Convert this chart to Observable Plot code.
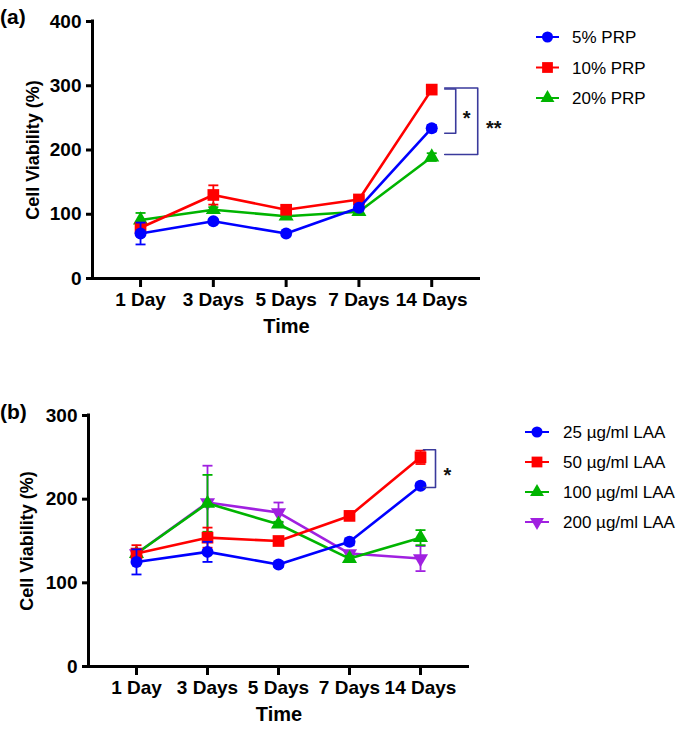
<!DOCTYPE html>
<html>
<head>
<meta charset="utf-8">
<script src="https://cdn.jsdelivr.net/npm/d3@7"></script>
<script src="https://cdn.jsdelivr.net/npm/@observablehq/plot@0.6"></script>
<style>
  body { margin: 0; background: #fff; }
  #page { position: relative; width: 685px; height: 734px; background: #fff; font-family: "Liberation Sans", Arial, sans-serif; }
  .panel { position: absolute; left: 0; }
  .tag { position: absolute; left: 0; font-weight: bold; font-size: 21px; line-height: 21px; }
  #overlay { position: absolute; left: 0; top: 0; }
</style>
</head>
<body>
<div id="page">
  <div id="pa" class="panel" style="top:0"></div>
  <div id="pb" class="panel" style="top:370px"></div>
  <div class="tag" style="top:6px">(a)</div>
  <div class="tag" style="top:401px">(b)</div>
</div>
<script>
// ---------- data ----------
const days = ["1 Day", "3 Days", "5 Days", "7 Days", "14 Days"];

// panel (a)
const namesA = ["5% PRP", "10% PRP", "20% PRP"];
const prp5 = [70, 89, 70, 110, 234];
const prp5Err = [17, 3, 3, 4, 5];
const prp10 = [79, 130, 107, 123, 294];
const prp10Err = [6, 15, 4, 4, 3];
const prp20 = [91, 107, 97, 104, 189];
const prp20Err = [11, 4, 3, 4, 6];
const yTicksA = [0, 100, 200, 300, 400];
const bracketsA = [
  { top: 295, bottom: 226, label: "*" },
  { top: 296.5, bottom: 193, label: "**" }
];

// panel (b)
const namesB = ["25 µg/ml LAA", "50 µg/ml LAA", "100 µg/ml LAA", "200 µg/ml LAA"];
const laa25 = [125, 137, 122, 149, 216];
const laa25Err = [15, 12, 3, 4, 3];
const laa50 = [135, 154, 150, 180, 250];
const laa50Err = [10, 12, 3, 5, 8];
const laa100 = [135, 195, 170, 129, 154];
const laa100Err = [4, 34, 3, 3, 9];
const laa200 = [135, 196, 184, 135, 129];
const laa200Err = [4, 44, 12, 3, 15];
const yTicksB = [0, 100, 200, 300];
const bracketsB = [
  { top: 259, bottom: 214, label: "*" }
];

// ---------- styles ----------
const FONT = "Liberation Sans, Arial, sans-serif";
const BLUE = "#0000ff", RED = "#ff0000", GREEN = "#00b400", PURPLE = "#a020e0";
const BRACKET = "#3a3a9c";

const triDown = {
  draw(context, size) {
    const y = -Math.sqrt(size / (Math.sqrt(3) * 3));
    context.moveTo(0, -y * 2);
    context.lineTo(-Math.sqrt(3) * y, y);
    context.lineTo(Math.sqrt(3) * y, y);
    context.closePath();
  }
};
const symbolDefs = {
  circle: { sym: "circle", r: 6 },
  square: { sym: "square", r: 6.6 },
  triangle: { sym: "triangle", r: 5.6 },
  triDown: { sym: triDown, r: 5.6 }
};

function buildPanel(cfg) {
  const pxPerUnit = (cfg.width - cfg.marginLeft - cfg.marginRight) / (cfg.xDomain[1] - cfg.xDomain[0]);
  const u = px => px / pxPerUnit;
  const marks = [];
  // axis lines
  marks.push(
    Plot.ruleY([cfg.yDomain[0]], { stroke: "#000", strokeWidth: 3 }),
    Plot.ruleX([cfg.xDomain[0]], { y1: cfg.yDomain[0], y2: cfg.yDomain[1], stroke: "#000", strokeWidth: 3, strokeLinecap: "square" })
  );
  // series drawn in reverse so the first one is on top
  for (let s = cfg.series.length - 1; s >= 0; s--) {
    const ser = cfg.series[s];
    const data = ser.values.map((v, i) => ({ i, v, e: ser.errs[i] }));
    const sd = symbolDefs[ser.symbol];
    marks.push(
      Plot.ruleX(data, { x: "i", y1: d => d.v - d.e, y2: d => d.v + d.e, stroke: ser.color, strokeWidth: 1.8 }),
      Plot.link(data, { x1: d => d.i - u(5), x2: d => d.i + u(5), y1: d => d.v + d.e, y2: d => d.v + d.e, stroke: ser.color, strokeWidth: 1.8 }),
      Plot.link(data, { x1: d => d.i - u(5), x2: d => d.i + u(5), y1: d => d.v - d.e, y2: d => d.v - d.e, stroke: ser.color, strokeWidth: 1.8 }),
      Plot.line(data, { x: "i", y: "v", stroke: ser.color, strokeWidth: 2.6 }),
      Plot.dot(data, { x: "i", y: "v", symbol: sd.sym, fill: ser.color, stroke: "none", r: sd.r })
    );
  }
  const last = days.length - 1;
  cfg.brackets.forEach((b, k) => {
    const xs = cfg.bracketX[k];
    const pts = [
      { x: last + u(xs[0]), y: b.top },
      { x: last + u(xs[1]), y: b.top },
      { x: last + u(xs[1]), y: b.bottom },
      { x: last + u(xs[0]), y: b.bottom }
    ];
    marks.push(Plot.line(pts, { x: "x", y: "y", stroke: BRACKET, strokeWidth: 1.6 }));
    marks.push(Plot.text([b], {
      x: () => last + u(cfg.labelX[k]), y: d => (d.top + d.bottom) / 2, text: "label",
      dy: 7, fontSize: 20, fontWeight: "bold", fill: "#111"
    }));
  });
  marks.push(
    Plot.axisY({ ticks: cfg.yTicks, tickSize: 6, tickPadding: 5, strokeWidth: 3, stroke: "#000",
      fontSize: 19, fontWeight: "bold", fill: "#000", label: null }),
    Plot.axisX({ ticks: days.map((d, i) => i), tickFormat: i => days[i], tickSize: 9, tickPadding: 5,
      strokeWidth: 3, stroke: "#000", fontSize: 19, fontWeight: "bold", fill: "#000", label: null }),
    Plot.text(["Time"], { text: d => d, frameAnchor: "bottom", dy: cfg.timeDy, fontSize: 20, fontWeight: "bold", fill: "#000" }),
    Plot.text(["Cell Viability (%)"], { text: d => d, frameAnchor: "left", textAnchor: "middle", dx: cfg.yLabelDx, rotate: -90, fontSize: 18, fontWeight: "bold", fill: "#000" })
  );
  return Plot.plot({
    width: cfg.width, height: cfg.height,
    marginLeft: cfg.marginLeft, marginRight: cfg.marginRight, marginTop: cfg.marginTop, marginBottom: cfg.marginBottom,
    x: { type: "linear", domain: cfg.xDomain },
    y: { type: "linear", domain: cfg.yDomain },
    style: { fontFamily: FONT, background: "#fff", overflow: "visible" },
    marks
  });
}

const cfgA = {
  width: 520, height: 345, marginLeft: 92, marginRight: 40, marginTop: 21, marginBottom: 67,
  xDomain: [-0.66, 4.67], yDomain: [0, 400], yTicks: yTicksA,
  series: [
    { name: namesA[0], values: prp5, errs: prp5Err, color: BLUE, symbol: "circle" },
    { name: namesA[1], values: prp10, errs: prp10Err, color: RED, symbol: "square" },
    { name: namesA[2], values: prp20, errs: prp20Err, color: GREEN, symbol: "triangle" }
  ],
  brackets: bracketsA, bracketX: [[13, 24], [13, 46]], labelX: [35, 62],
  timeDy: 54, yLabelDx: -59
};
const cfgB = {
  width: 520, height: 364, marginLeft: 88, marginRight: 51, marginTop: 45, marginBottom: 68,
  xDomain: [-0.676, 4.69], yDomain: [0, 300], yTicks: yTicksB,
  series: [
    { name: namesB[0], values: laa25, errs: laa25Err, color: BLUE, symbol: "circle" },
    { name: namesB[1], values: laa50, errs: laa50Err, color: RED, symbol: "square" },
    { name: namesB[2], values: laa100, errs: laa100Err, color: GREEN, symbol: "triangle" },
    { name: namesB[3], values: laa200, errs: laa200Err, color: PURPLE, symbol: "triDown" }
  ],
  brackets: bracketsB, bracketX: [[3, 15]], labelX: [27],
  timeDy: 54, yLabelDx: -61
};

document.getElementById("pa").appendChild(buildPanel(cfgA));
document.getElementById("pb").appendChild(buildPanel(cfgB));

// ---------- legends ----------
const overlay = d3.select("#page").append("svg")
  .attr("id", "overlay").attr("width", 685).attr("height", 734)
  .style("pointer-events", "none");

function legend(series, x0, y0, rowH, lineLen, textX) {
  series.forEach((ser, k) => {
    const y = y0 + k * rowH;
    const cx = x0 + lineLen / 2;
    overlay.append("line").attr("x1", x0).attr("x2", x0 + lineLen).attr("y1", y).attr("y2", y)
      .attr("stroke", ser.color).attr("stroke-width", 2);
    const sd = symbolDefs[ser.symbol];
    const symObj = typeof sd.sym === "string"
      ? { circle: d3.symbolCircle, square: d3.symbolSquare, triangle: d3.symbolTriangle }[sd.sym]
      : sd.sym;
    overlay.append("path").attr("d", d3.symbol(symObj, Math.PI * sd.r * sd.r * 0.85)())
      .attr("transform", `translate(${cx},${y})`).attr("fill", ser.color);
    overlay.append("text").attr("x", textX).attr("y", y).attr("dy", "0.36em")
      .attr("font-family", FONT).attr("font-size", 17).attr("fill", "#000").text(ser.name);
  });
}
legend(cfgA.series, 536, 37, 30.5, 23, 572);
legend(cfgB.series, 525, 432, 30, 24, 563);
</script>
</body>
</html>
